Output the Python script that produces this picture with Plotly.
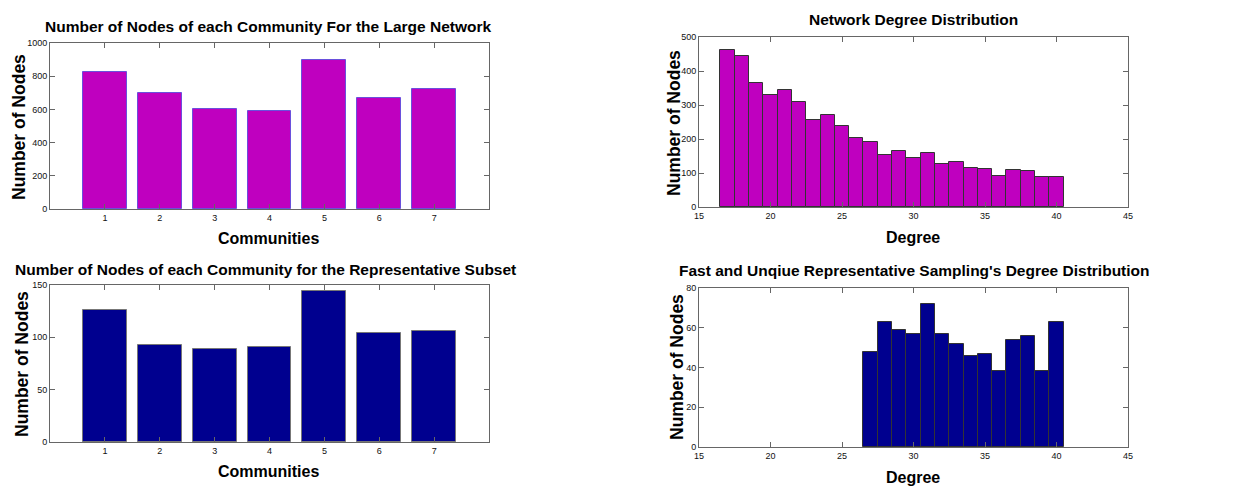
import plotly.graph_objects as go

communities = [1, 2, 3, 4, 5, 6, 7]
large_counts = [825, 697, 600, 593, 898, 671, 725]
subset_counts = [126, 93, 89, 91, 144, 104, 106]

net_degrees = list(range(17, 41))
net_counts = [463, 445, 365, 330, 343, 308, 257, 270, 237, 202, 192, 154,
              165, 143, 160, 127, 133, 115, 112, 92, 110, 105, 87, 87]

samp_degrees = list(range(27, 41))
samp_counts = [48, 63, 59, 57, 72, 57, 52, 46, 47, 38, 54, 56, 38, 63]

MAGENTA = "#bf00bf"
NAVY = "#00008f"
FONT = "Liberation Sans, Arial, sans-serif"
OFF = 8  # page body margin of the html page
W, H = 1235 - OFF, 486 - OFF

fig = go.Figure()
fig.add_trace(go.Bar(x=communities, y=large_counts, width=0.8,
                     marker=dict(color=MAGENTA, line=dict(color="#6a50dc", width=1)),
                     xaxis="x", yaxis="y"))
fig.add_trace(go.Bar(x=net_degrees, y=net_counts, width=1,
                     marker=dict(color=MAGENTA, line=dict(color="#333333", width=1)),
                     xaxis="x2", yaxis="y2"))
fig.add_trace(go.Bar(x=communities, y=subset_counts, width=0.8,
                     marker=dict(color=NAVY, line=dict(color="#777777", width=1)),
                     xaxis="x3", yaxis="y3"))
fig.add_trace(go.Bar(x=samp_degrees, y=samp_counts, width=1,
                     marker=dict(color=NAVY, line=dict(color="#333333", width=1)),
                     xaxis="x4", yaxis="y4"))

def px_x(p):
    return (p - OFF) / W

def px_y(p):
    return 1 - (p - OFF) / H

axis_common = dict(showline=True, linecolor="#666666", linewidth=1, mirror="ticks",
                   ticks="inside", ticklen=5, tickcolor="#666666", showgrid=False,
                   zeroline=False, automargin=False,
                   tickfont=dict(family=FONT, size=9, color="#111111"))

# domains: (x0, x1, ytop, ybottom) in page pixels
doms = {
    "1": (50, 489, 43, 209),
    "2": (699, 1128, 37, 207),
    "3": (50, 489, 285, 442),
    "4": (699, 1128, 288, 447),
}
xcfg = {
    "1": dict(range=[0, 8], tickvals=communities),
    "2": dict(range=[15, 45], tickvals=[15, 20, 25, 30, 35, 40, 45]),
    "3": dict(range=[0, 8], tickvals=communities),
    "4": dict(range=[15, 45], tickvals=[15, 20, 25, 30, 35, 40, 45]),
}
ycfg = {
    "1": dict(range=[0, 1000], tickvals=[0, 200, 400, 600, 800, 1000]),
    "2": dict(range=[0, 500], tickvals=[0, 100, 200, 300, 400, 500]),
    "3": dict(range=[0, 150], tickvals=[0, 50, 100, 150]),
    "4": dict(range=[0, 80], tickvals=[0, 20, 40, 60, 80]),
}
layout = {}
for k, (x0, x1, yt, yb) in doms.items():
    xname = "xaxis" if k == "1" else f"xaxis{k}"
    yname = "yaxis" if k == "1" else f"yaxis{k}"
    xa = dict(axis_common, domain=[px_x(x0), px_x(x1)], anchor="y" if k == "1" else f"y{k}")
    xa.update(xcfg[k])
    ya = dict(axis_common, domain=[px_y(yb), px_y(yt)], anchor="x" if k == "1" else f"x{k}")
    ya.update(ycfg[k])
    layout[xname] = xa
    layout[yname] = ya

fig.update_layout(**layout)

annots = [
    ("Number of Nodes of each Community For the Large Network", 268, 26, 15.5, 0),
    ("Network Degree Distribution", 913, 20, 15.5, 0),
    ("Number of Nodes of each Community for the Representative Subset", 265, 269, 15.5, 0),
    ("Fast and Unqiue Representative Sampling's Degree Distribution", 914, 270, 15.5, 0),
    ("Communities", 268, 239, 16, 0),
    ("Degree", 913, 237, 16, 0),
    ("Communities", 268, 471, 16, 0),
    ("Degree", 913, 477, 16, 0),
    ("Number of Nodes", 19, 127, 17.5, -90),
    ("Number of Nodes", 674, 123, 17.5, -90),
    ("Number of Nodes", 22, 364, 17.5, -90),
    ("Number of Nodes", 677, 367, 17.5, -90),
]
for text, x, y, size, ang in annots:
    fig.add_annotation(text=f"<b>{text}</b>", x=px_x(x), y=px_y(y), xref="paper", yref="paper",
                       xanchor="center", yanchor="middle", showarrow=False, textangle=ang,
                       font=dict(family=FONT, size=size, color="black"))

fig.update_layout(width=W, height=H, margin=dict(l=0, r=0, t=0, b=0),
                  paper_bgcolor="white", plot_bgcolor="white", showlegend=False,
                  bargap=0)

fig.write_html("out.html")
